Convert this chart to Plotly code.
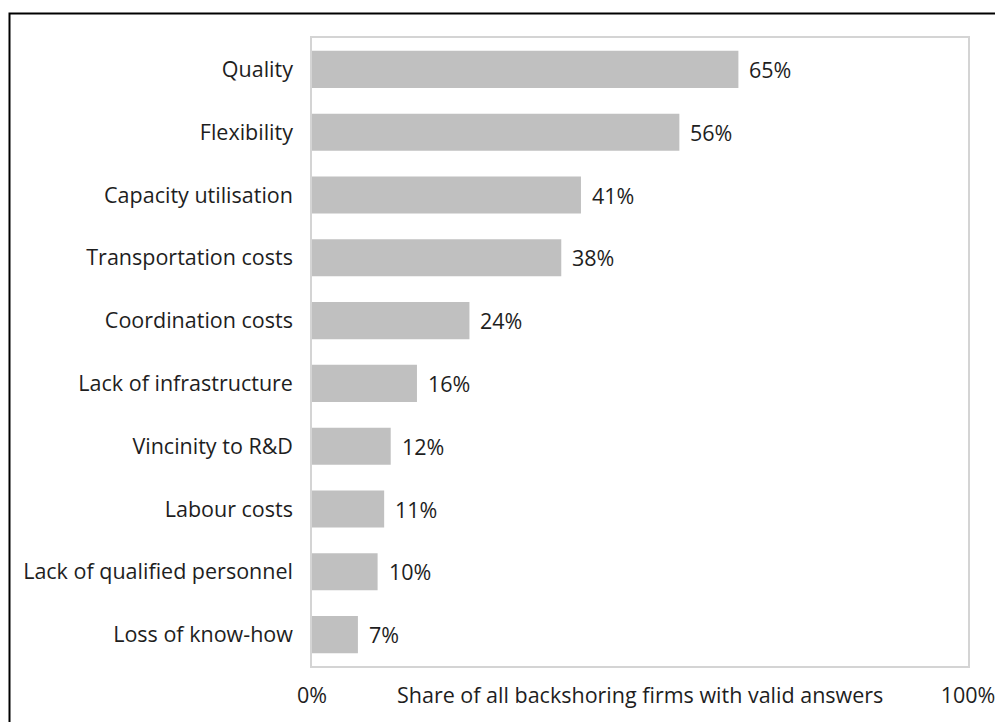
import plotly.graph_objects as go

# Reasons for backshoring, share of firms (%)
categories = [
    "Quality",
    "Flexibility",
    "Capacity utilisation",
    "Transportation costs",
    "Coordination costs",
    "Lack of infrastructure",
    "Vincinity to R&D",
    "Labour costs",
    "Lack of qualified personnel",
    "Loss of know-how",
]
shares = [65, 56, 41, 38, 24, 16, 12, 11, 10, 7]

x_tick_vals = [0, 100]
x_tick_text = ["0%", "100%"]
x_title = "Share of all backshoring firms with valid answers"

FONT = "Open Sans"
FSIZE = 21.5
TEXT_COLOR = "#1e1e1e"
BAR_COLOR = "#c0c0c0"

W, H = 995, 722
L, R, T, B = 312, 27, 38, 56
pw, ph = W - L - R, H - T - B

fig = go.Figure(
    go.Bar(
        x=shares,
        y=categories,
        orientation="h",
        marker=dict(color=BAR_COLOR, line=dict(width=0)),
        hoverinfo="skip",
    )
)

# value labels to the right of each bar
for cat, val in zip(categories, shares):
    fig.add_annotation(
        x=val, y=cat, xref="x", yref="y",
        text=f"{val}%", showarrow=False,
        xanchor="left", yanchor="middle", xshift=9,
        font=dict(family=FONT, size=FSIZE, color=TEXT_COLOR),
    )

# axis caption between the two tick labels
fig.add_annotation(
    x=0.5, y=(H - 694 - B) / ph, xref="paper", yref="paper",
    text=x_title, showarrow=False, xanchor="center", yanchor="middle",
    font=dict(family=FONT, size=FSIZE, color=TEXT_COLOR),
)

# outer frame
fig.add_shape(
    type="rect", xref="paper", yref="paper",
    x0=(9.5 - L) / pw, x1=(1010 - L) / pw,
    y0=(H - B - 740) / ph, y1=(H - B - 13.5) / ph,
    line=dict(color="black", width=2), fillcolor="rgba(0,0,0,0)",
    layer="above",
)

fig.update_layout(
    width=W, height=H,
    margin=dict(l=L, r=R, t=T, b=B, pad=0, autoexpand=False),
    paper_bgcolor="white", plot_bgcolor="white",
    bargap=0.41,
    showlegend=False,
    font=dict(family=FONT, size=FSIZE, color=TEXT_COLOR),
    xaxis=dict(
        range=[0, 100], tickvals=x_tick_vals, ticktext=x_tick_text,
        showgrid=False, zeroline=False, ticks="", automargin=False,
        showline=True, mirror=True, linecolor="#d4d4d4", linewidth=1.5,
        ticklabelstandoff=9, ticklabeloverflow="allow",
        tickfont=dict(family=FONT, size=FSIZE, color=TEXT_COLOR),
    ),
    yaxis=dict(
        autorange="reversed", showgrid=False, zeroline=False, ticks="",
        automargin=False,
        showline=True, mirror=True, linecolor="#d4d4d4", linewidth=1.5,
        ticklabelstandoff=13,
        tickfont=dict(family=FONT, size=FSIZE, color=TEXT_COLOR),
    ),
)

fig.write_html("out.html")
